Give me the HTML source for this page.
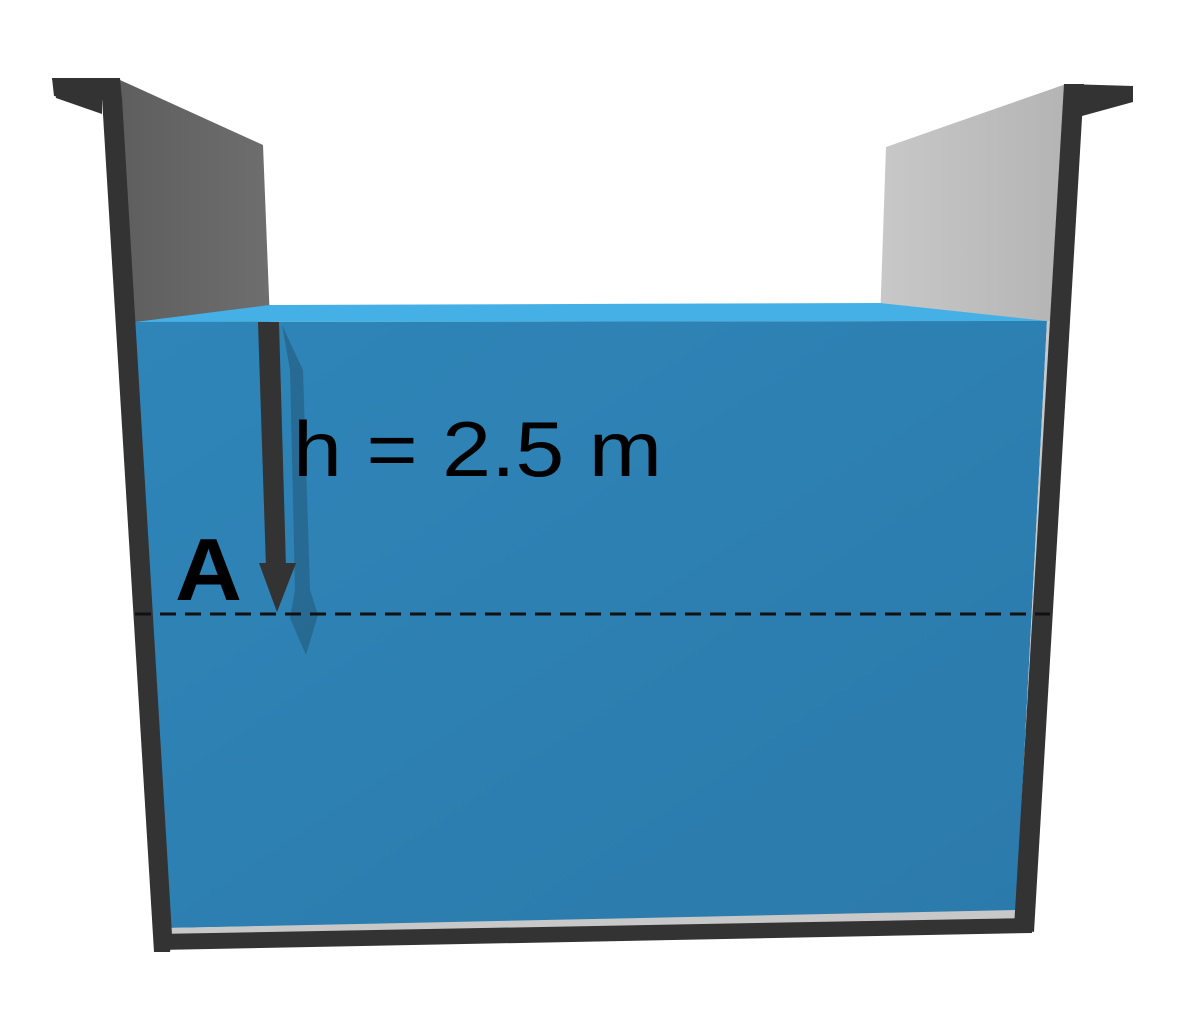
<!DOCTYPE html>
<html><head><meta charset="utf-8"><style>
html,body{margin:0;padding:0;background:#fff;}
svg{display:block;}
</style></head><body>
<svg width="1181" height="1022" viewBox="0 0 1181 1022" xmlns="http://www.w3.org/2000/svg">
  <defs>
    <linearGradient id="lw" x1="0" x2="1"><stop offset="0" stop-color="#5e5e5e"/><stop offset="1" stop-color="#6e6e6e"/></linearGradient>
    <linearGradient id="rw" x1="0" x2="1"><stop offset="0" stop-color="#c8c8c8"/><stop offset="1" stop-color="#b4b4b4"/></linearGradient>
    <linearGradient id="wf" x1="0" y1="0" x2="1" y2="1"><stop offset="0" stop-color="#2f85b8"/><stop offset="1" stop-color="#2b7aab"/></linearGradient>
  </defs>
  <polygon points="120,80 263,145 270,322 135,322" fill="url(#lw)"/>
  <polygon points="886,147 1066,84 1060,322 880,322" fill="url(#rw)"/>
  <polygon points="135,322 270,305 880,303 1047,321" fill="#45b0e6"/>
  <polygon points="135,322 1047,321 1016,912 168,928" fill="url(#wf)"/>
  <polygon points="168,928 1016,910 1030,918 170,936" fill="#c8c8c8"/>
  <polygon points="1047,321 1052,321 1022,915 1016,912" fill="#c8c8c8"/>
  <polygon points="52,78 120,78 122,100 102,100 102,114 56,98" fill="#333"/>
  <polygon points="52,78 120,78 120,98 54,96" fill="#333"/>
  <polygon points="102,98 122,98 172,935 170,952 154,952" fill="#333"/>
  <polygon points="156,934 1032,918 1032,933 158,950" fill="#333"/>
  <polygon points="1064,84 1084,84 1034,932 1014,928" fill="#333"/>
  <polygon points="1066,84 1133,86 1133,102 1082,116 1064,100" fill="#333"/>
  <polygon points="282,325 303,370 310,590 318,615 306,655 290,618 295,590 290,370" fill="#1f4d6b" opacity="0.45"/>
  <polygon points="258,322 279,322 286,568 266,568" fill="#333"/>
  <polygon points="259,563 296,563 277,612" fill="#333"/>
  <line x1="135" y1="614" x2="1050" y2="614" stroke="#111" stroke-width="3" stroke-dasharray="16,9"/>
  <text x="293" y="476" font-family="Liberation Sans, sans-serif" font-size="78" fill="#000" textLength="369" lengthAdjust="spacingAndGlyphs">h = 2.5 m</text>
  <text x="175" y="600" font-family="Liberation Sans, sans-serif" font-size="88" font-weight="bold" fill="#000" textLength="67" lengthAdjust="spacingAndGlyphs">A</text>
</svg>
</body></html>
